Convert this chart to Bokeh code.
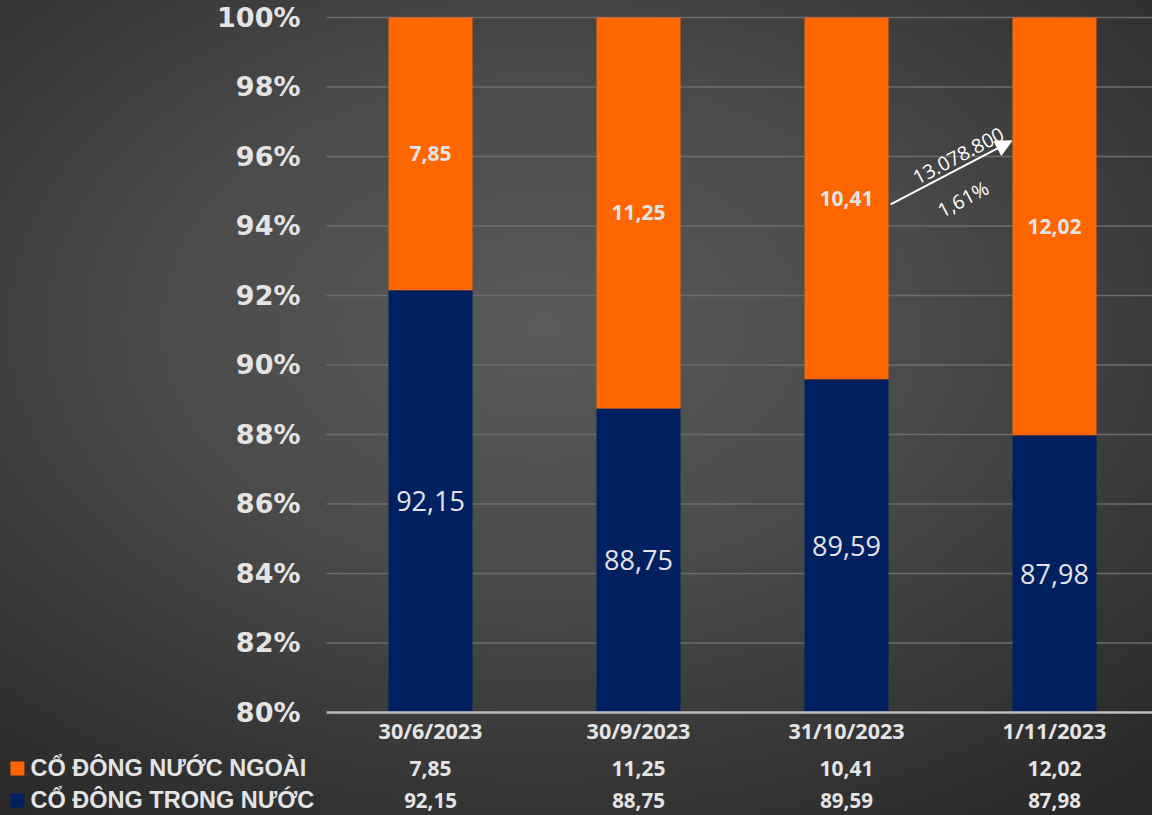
from bokeh.plotting import figure
from bokeh.models import (Range1d, ColumnDataSource, Label, Arrow, NormalHead)
from bokeh.core.properties import value
from bokeh.embed import file_html
from bokeh.resources import INLINE

categories = ["30/6/2023", "30/9/2023", "31/10/2023", "1/11/2023"]
foreign = [7.85, 11.25, 10.41, 12.02]
domestic = [92.15, 88.75, 89.59, 87.98]
foreign_txt = ["7,85", "11,25", "10,41", "12,02"]
domestic_txt = ["92,15", "88,75", "89,59", "87,98"]
y_ticks = [80, 82, 84, 86, 88, 90, 92, 94, 96, 98, 100]
y_tick_labels = ["80%", "82%", "84%", "86%", "88%", "90%", "92%", "94%", "96%", "98%", "100%"]
series_names = ["CỔ ĐÔNG NƯỚC NGOÀI", "CỔ ĐÔNG TRONG NƯỚC"]
arrow_texts = ["13.078.800", "1,61%"]

ORANGE = "#FF6600"
NAVY = "#002060"
TXT = "#e4e4e4"
Y_MIN = 80
X_LEFT = -0.5
X_RIGHT = 3.4712
ROW1_Y = 78.39
ROW2_Y = 77.47

xs = list(range(len(categories)))
n = len(xs)
src = ColumnDataSource(dict(
    x=xs, domestic=domestic, foreign=foreign,
    base=[Y_MIN] * n,
    total=[d + f for d, f in zip(domestic, foreign)],
    cat=categories,
    f_txt=foreign_txt, d_txt=domestic_txt,
    f_y=[(d + d + f) / 2 for d, f in zip(domestic, foreign)],
    d_y=[(Y_MIN + d) / 2 for d in domestic],
    cat_y=[79.48] * n, row1=[ROW1_Y] * n, row2=[ROW2_Y] * n,
))

p = figure(width=1152, height=815, x_range=Range1d(-2.0673, X_RIGHT),
           y_range=Range1d(77.036, 100.489),
           output_backend="svg", toolbar_location=None,
           min_border=0, min_border_left=0, min_border_right=0,
           min_border_top=0, min_border_bottom=0)
p.axis.visible = False
p.grid.visible = False
p.background_fill_color = None
p.border_fill_color = None
p.outline_line_color = None
p.styles = {"background": "radial-gradient(ellipse 80% 75% at 47% 40%, #5a5a5a 0%, #4b4b4b 40%, #333333 80%, #282828 100%)"}

# grid lines (from tick values)
grid_src = ColumnDataSource(dict(y=y_ticks[1:], x0=[X_LEFT] * (len(y_ticks) - 1),
                                 x1=[X_RIGHT] * (len(y_ticks) - 1)))
p.segment(x0="x0", x1="x1", y0="y", y1="y", source=grid_src,
          line_color="#6c6c6c", line_width=1.5)

# bars
p.vbar(x="x", bottom="base", top="domestic", width=0.404, source=src,
       fill_color=NAVY, line_color=None)
p.vbar(x="x", bottom="domestic", top="total", width=0.404, source=src,
       fill_color=ORANGE, line_color=None)

# x axis line
p.segment(x0=[X_LEFT], x1=[X_RIGHT], y0=[Y_MIN], y1=[Y_MIN],
          line_color="#bdbdbd", line_width=2.5)

# y tick labels
tick_src = ColumnDataSource(dict(y=y_ticks, t=y_tick_labels, x=[-0.625] * len(y_ticks)))
p.text(x="x", y="y", text="t", source=tick_src, text_align="right", text_baseline="middle",
       text_font=value("DejaVu Sans"), text_font_style="bold", text_font_size="27px",
       text_color=TXT)

# category labels
p.text(x="x", y="cat_y", text="cat", source=src, text_align="center", text_baseline="middle",
       text_font=value("Open Sans"), text_font_style="bold", text_font_size="21.5px",
       text_color=TXT)

# in-bar labels
p.text(x="x", y="f_y", text="f_txt", source=src, text_align="center", text_baseline="middle",
       text_font=value("Open Sans"), text_font_style="bold", text_font_size="21px",
       text_color=TXT)
p.text(x="x", y="d_y", text="d_txt", source=src, text_align="center", text_baseline="middle",
       text_font=value("Open Sans"), text_font_size="27px", text_color=TXT)

# data table rows
p.text(x="x", y="row1", text="f_txt", source=src, text_align="center", text_baseline="middle",
       text_font=value("Open Sans"), text_font_style="bold", text_font_size="21px",
       text_color=TXT)
p.text(x="x", y="row2", text="d_txt", source=src, text_align="center", text_baseline="middle",
       text_font=value("Open Sans"), text_font_style="bold", text_font_size="20.5px",
       text_color=TXT)

# legend keys of the table
leg_src = ColumnDataSource(dict(name=series_names, col=[ORANGE, NAVY], y=[ROW1_Y, ROW2_Y],
                                xk=[-1.986, -1.986], xt=[-1.923, -1.923]))
p.scatter(x="xk", y="y", marker="square", size=14, fill_color="col", line_color=None,
          source=leg_src)
p.text(x="xt", y="y", text="name", source=leg_src, text_align="left", text_baseline="middle",
       text_font=value("Liberation Sans"), text_font_style="bold", text_font_size="23.5px",
       text_color=TXT)

# arrow annotation
p.add_layout(Arrow(x_start=2.212, y_start=94.62, x_end=2.795, y_end=96.45,
                   line_color="white", line_width=2,
                   end=NormalHead(size=16, fill_color="white", line_color="white")))
ang = 0.483
p.add_layout(Label(x=2.538, y=96.02, text=arrow_texts[0], angle=ang, text_align="center",
                   text_baseline="middle", text_font="Open Sans", text_font_size="19.5px",
                   text_color="white"))
p.add_layout(Label(x=2.56, y=94.78, text=arrow_texts[1], angle=ang, text_align="center",
                   text_baseline="middle", text_font="Open Sans", text_font_size="19.5px",
                   text_color="white"))

open("out.html", "w").write(file_html(p, INLINE))
